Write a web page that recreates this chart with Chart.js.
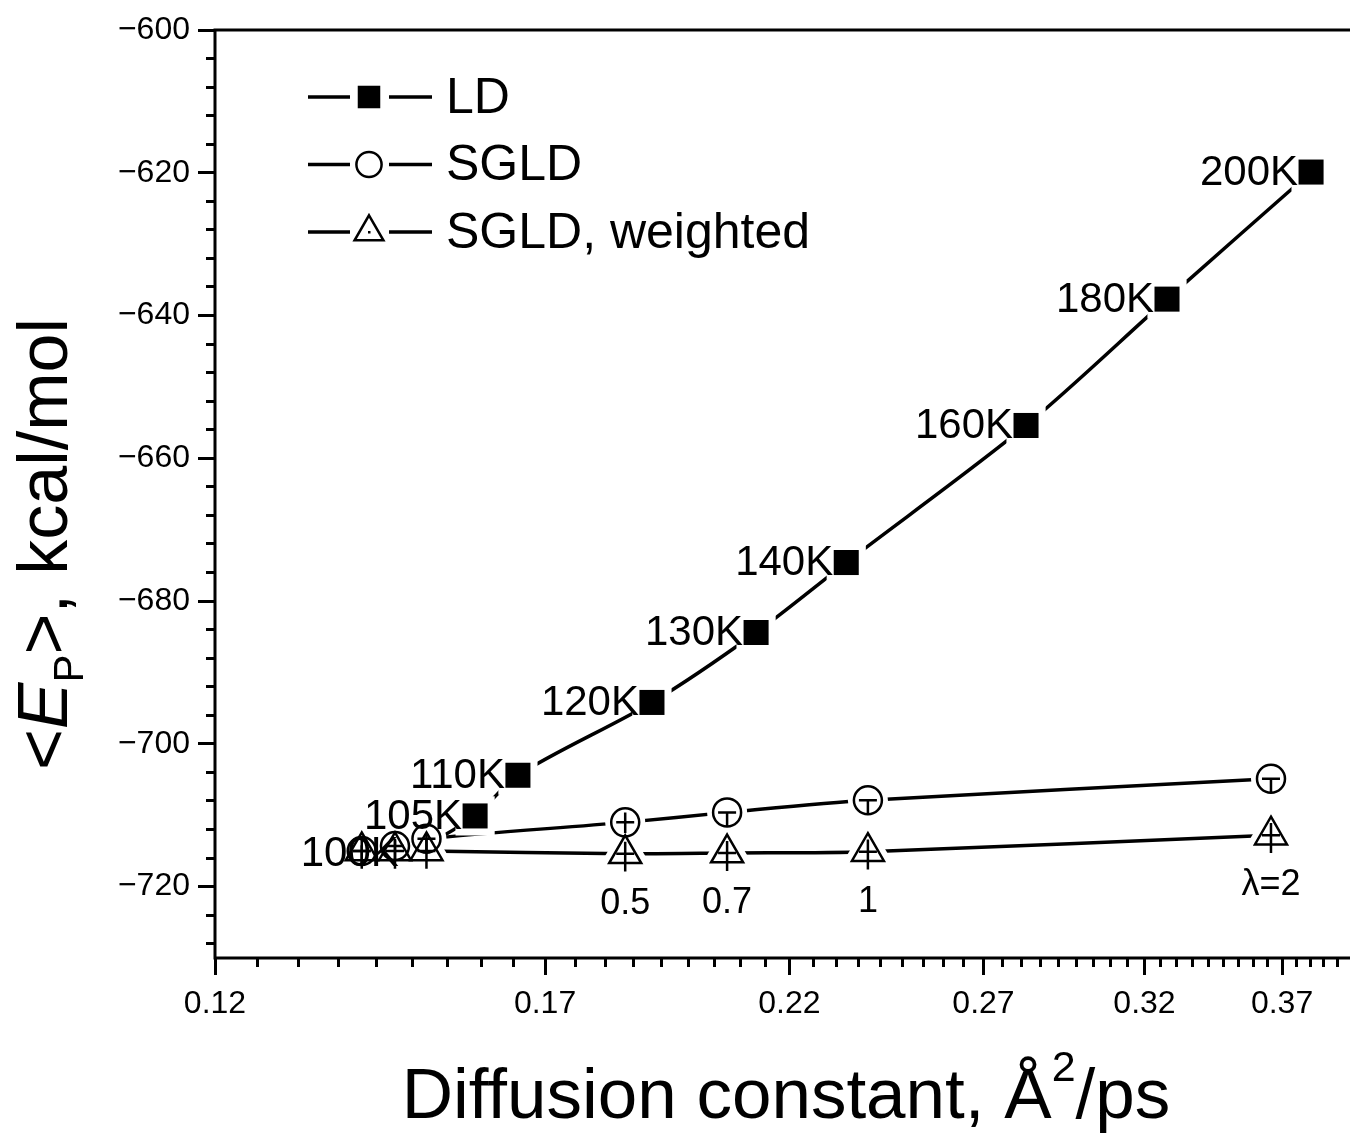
<!DOCTYPE html>
<html lang="en">
<head>
  <meta charset="UTF-8">
  <meta name="viewport" content="width=device-width, initial-scale=1.0">
  <title>Ep vs diffusion constant</title>
  <script src="https://cdn.jsdelivr.net/npm/chart.js@4.4.0/dist/chart.umd.min.js"></script>
  <style>
    html, body { margin: 0; padding: 0; background: #fff; overflow: hidden; }
    #wrap { width: 1350px; height: 1135px; position: relative; }
  </style>
</head>
<body>
  <div id="wrap"><canvas id="myChart" width="1350" height="1135"></canvas></div>

  <script>
    // LD runs at different temperatures
    const ldTemps = ['100K', '105K', '110K', '120K', '130K', '140K', '160K', '180K', '200K'];
    const ldX = [0.1477, 0.1579, 0.1652, 0.1903, 0.2124, 0.2336, 0.2824, 0.3277, 0.3815];
    const ldY = [-715.4, -710.1, -704.4, -694.2, -684.4, -674.6, -655.4, -637.7, -619.9];

    // SGLD runs at 100K, different lambda
    const lambdaLabels = ['', '', '', '0.5', '0.7', '1', 'λ=2'];
    const sgldX = [0.1401, 0.1451, 0.1500, 0.1850, 0.2060, 0.2390, 0.3657];
    const sgldY = [-715.0, -714.3, -713.3, -711.0, -709.6, -707.9, -704.9];
    const sgldErrUp = [0.8, 0.8, 0.8, 1.4, 0, 0, 0];
    const sgldErrDown = [2.0, 2.0, 2.0, 1.5, 2.0, 2.0, 2.0];

    // SGLD, reweighted
    const wY = [-715.0, -715.0, -715.0, -715.4, -715.3, -715.1, -712.8];
    const wErrUp = [1.7, 1.7, 1.7, 1.7, 1.7, 1.7, 1.7];
    const wErrDown = [2.5, 2.5, 2.5, 2.5, 2.5, 2.5, 2.5];

    const xTicks = [0.12, 0.17, 0.22, 0.27, 0.32, 0.37];
    const yTicks = [-720, -700, -680, -660, -640, -620, -600];

    const X_MIN = 0.12, X_MAX = 0.3975, Y_MIN = -730, Y_MAX = -600;
    const FONT = '"Liberation Sans", Arial, sans-serif';

    // minor ticks: 8 between majors on x, every 4 on y
    let xMinor = [];
    for (let i = 0; i < xTicks.length; i++) {
      for (let k = 1; k < 9; k++) {
        let v = xTicks[i] + k * 0.05 / 9;
        if (v < X_MAX) xMinor.push(v);
      }
    }
    let yMinor = [];
    for (let v = Y_MIN + 2; v <= Y_MAX; v += 4) yMinor.push(v);

    function pts(xs, ys) {
      return xs.map((x, i) => ({ x: x, y: ys[i] }));
    }

    const series = [
      { label: 'LD', data: pts(ldX, ldY), style: 'rect', r: 17.7, fill: '#000', bw: 0, gap: 10 },
      { label: 'SGLD', data: pts(sgldX, sgldY), style: 'circle', r: 14, fill: 'rgba(0,0,0,0)', bw: 2.5, gap: 6 },
      { label: 'SGLD, weighted', data: pts(sgldX, wY), style: 'triangle', r: 18.5, fill: 'rgba(0,0,0,0)', bw: 2.5, gap: 14 }
    ];

    let datasets = [];
    series.forEach(function (s, i) {
      // the curve
      datasets.push({
        label: s.label, data: s.data, showLine: true, borderColor: '#000', borderWidth: 3.5,
        pointRadius: 0, tension: 0.3, fill: false, order: 20
      });
      // white spot under the marker, gives the gap in the line
      datasets.push({
        label: s.label + ' gap', data: s.data, showLine: false,
        pointStyle: s.style, pointRadius: s.r + s.gap,
        pointBackgroundColor: '#fff', pointBorderColor: '#fff', pointBorderWidth: 0,
        order: i == 0 ? 12 : 8
      });
      // the marker
      datasets.push({
        label: s.label + ' marker', data: s.data, showLine: false,
        pointStyle: s.style, pointRadius: s.r,
        pointBackgroundColor: s.fill, pointBorderColor: '#000', pointBorderWidth: s.bw,
        order: i == 0 ? 10 : 3 - i
      });
    });

    const framePlugin = {
      id: 'frame',
      afterDatasetsDraw(chart) {
        const a = chart.chartArea, ctx = chart.ctx;
        ctx.save();
        ctx.strokeStyle = '#000';
        ctx.lineWidth = 3;
        ctx.beginPath();
        ctx.moveTo(a.right + 2, a.top);
        ctx.lineTo(a.left, a.top);
        ctx.lineTo(a.left, a.bottom);
        ctx.lineTo(a.right + 2, a.bottom);
        ctx.stroke();
        ctx.restore();
      }
    };

    const errorPlugin = {
      id: 'errbars',
      afterDatasetsDraw(chart) {
        const xs = chart.scales.x, ys = chart.scales.y, ctx = chart.ctx;
        ctx.save();
        ctx.strokeStyle = '#000';
        ctx.lineWidth = 2.5;
        function bars(yv, up, down) {
          for (let i = 0; i < sgldX.length; i++) {
            const px = xs.getPixelForValue(sgldX[i]);
            const py = ys.getPixelForValue(yv[i]);
            ctx.beginPath();
            ctx.moveTo(px, ys.getPixelForValue(yv[i] + up[i]));
            ctx.lineTo(px, ys.getPixelForValue(yv[i] - down[i]));
            ctx.moveTo(px - 9, py);
            ctx.lineTo(px + 9, py);
            ctx.stroke();
          }
        }
        bars(sgldY, sgldErrUp, sgldErrDown);
        bars(wY, wErrUp, wErrDown);
        ctx.restore();
      }
    };

    const labelPlugin = {
      id: 'pointLabels',
      afterDatasetsDraw(chart) {
        const xs = chart.scales.x, ys = chart.scales.y, ctx = chart.ctx;
        ctx.save();
        ctx.fillStyle = '#000';
        ctx.font = '42px ' + FONT;
        ctx.textAlign = 'right';
        ctx.textBaseline = 'middle';
        ldTemps.forEach(function (t, i) {
          ctx.fillText(t, xs.getPixelForValue(ldX[i]) - 13, ys.getPixelForValue(ldY[i]) + 1);
        });
        ctx.font = '36px ' + FONT;
        ctx.textAlign = 'center';
        ctx.textBaseline = 'alphabetic';
        lambdaLabels.forEach(function (t, i) {
          if (t) ctx.fillText(t, xs.getPixelForValue(sgldX[i]), ys.getPixelForValue(wY[i]) + 60);
        });
        ctx.restore();
      }
    };

    const legendPlugin = {
      id: 'sideLegend',
      afterDraw(chart) {
        const ctx = chart.ctx;
        ctx.save();
        series.forEach(function (s, i) {
          const y = 97 + i * 67.5;
          ctx.strokeStyle = '#000';
          ctx.lineWidth = 3.5;
          ctx.beginPath();
          ctx.moveTo(308, y); ctx.lineTo(350, y);
          ctx.moveTo(389, y); ctx.lineTo(432, y);
          ctx.stroke();
          ctx.fillStyle = s.fill;
          ctx.lineWidth = s.bw;
          Chart.helpers.drawPoint(ctx, {
            pointStyle: s.style, rotation: 0, radius: s.r * 0.9, borderWidth: s.bw
          }, 369, y);
          if (s.style == 'triangle') {
            ctx.fillStyle = '#000';
            ctx.fillRect(368, y - 1, 2.5, 2.5);
          }
          ctx.fillStyle = '#000';
          ctx.font = '50px ' + FONT;
          ctx.textAlign = 'left';
          ctx.textBaseline = 'middle';
          ctx.fillText(s.label, 446, y + 2);
        });
        ctx.restore();
      }
    };

    function drawParts(ctx, parts, x, y) {
      let w = 0;
      parts.forEach(function (p) { ctx.font = p.font; w += ctx.measureText(p.t).width; });
      let cx = x - w / 2;
      parts.forEach(function (p) {
        ctx.font = p.font;
        ctx.fillText(p.t, cx, y + (p.dy || 0));
        cx += ctx.measureText(p.t).width;
      });
    }

    const titlePlugin = {
      id: 'axisTitles',
      afterDraw(chart) {
        const ctx = chart.ctx;
        ctx.save();
        ctx.fillStyle = '#000';
        ctx.textAlign = 'left';
        ctx.textBaseline = 'alphabetic';
        drawParts(ctx, [
          { t: 'Diffusion constant, Å', font: '71px ' + FONT },
          { t: '2', font: '43px ' + FONT, dy: -37 },
          { t: '/ps', font: '71px ' + FONT }
        ], 786, 1118);
        ctx.translate(67, 544);
        ctx.rotate(-Math.PI / 2);
        drawParts(ctx, [
          { t: '<', font: '70px ' + FONT },
          { t: 'E', font: 'italic 70px ' + FONT },
          { t: 'P', font: '42px ' + FONT, dy: 16 },
          { t: '>, kcal/mol', font: '70px ' + FONT }
        ], 0, 0);
        ctx.restore();
      }
    };

    new Chart('myChart', {
      type: 'scatter',
      data: { datasets: datasets },
      plugins: [framePlugin, errorPlugin, labelPlugin, legendPlugin, titlePlugin],
      options: {
        responsive: false,
        animation: false,
        events: [],
        layout: { autoPadding: false, padding: { top: 30, right: 0, left: 0, bottom: 0 } },
        plugins: { legend: { display: false }, tooltip: { enabled: false } },
        scales: {
          x: {
            type: 'logarithmic', position: 'bottom', min: X_MIN, max: X_MAX, bounds: 'data', weight: 1,
            afterBuildTicks: function (axis) { axis.ticks = xTicks.map(v => ({ value: v })); },
            afterFit: function (axis) { axis.height = 177; axis.paddingLeft = 0; axis.paddingRight = 0; },
            grid: { drawOnChartArea: false, tickLength: 17, tickWidth: 3, tickColor: '#000' },
            border: { display: false },
            ticks: {
              autoSkip: false, maxRotation: 0, minRotation: 0, padding: 10, color: '#000',
              font: { family: FONT, size: 32 },
              callback: function (v) { return String(v); }
            }
          },
          x2: {
            type: 'logarithmic', position: 'bottom', min: X_MIN, max: X_MAX, bounds: 'data', weight: 0,
            afterBuildTicks: function (axis) { axis.ticks = xMinor.map(v => ({ value: v })); },
            afterFit: function (axis) { axis.height = 0; axis.paddingLeft = 0; axis.paddingRight = 0; },
            grid: { drawOnChartArea: false, tickLength: 9, tickWidth: 3, tickColor: '#000' },
            border: { display: false },
            ticks: { display: false }
          },
          y: {
            type: 'linear', position: 'left', min: Y_MIN, max: Y_MAX, bounds: 'data', weight: 1,
            afterBuildTicks: function (axis) { axis.ticks = yTicks.map(v => ({ value: v })); },
            afterFit: function (axis) { axis.width = 215; axis.paddingTop = 0; axis.paddingBottom = 0; },
            grid: { drawOnChartArea: false, tickLength: 17, tickWidth: 3, tickColor: '#000' },
            border: { display: false },
            ticks: {
              padding: 8, color: '#000',
              font: { family: FONT, size: 32 },
              callback: function (v) { return String(v).replace('-', '\u2212'); }
            }
          },
          y2: {
            type: 'linear', position: 'left', min: Y_MIN, max: Y_MAX, bounds: 'data', weight: 0,
            afterBuildTicks: function (axis) { axis.ticks = yMinor.map(v => ({ value: v })); },
            afterFit: function (axis) { axis.width = 0; axis.paddingTop = 0; axis.paddingBottom = 0; },
            grid: { drawOnChartArea: false, tickLength: 9, tickWidth: 3, tickColor: '#000' },
            border: { display: false },
            ticks: { display: false }
          }
        }
      }
    });
  </script>
</body>
</html>
